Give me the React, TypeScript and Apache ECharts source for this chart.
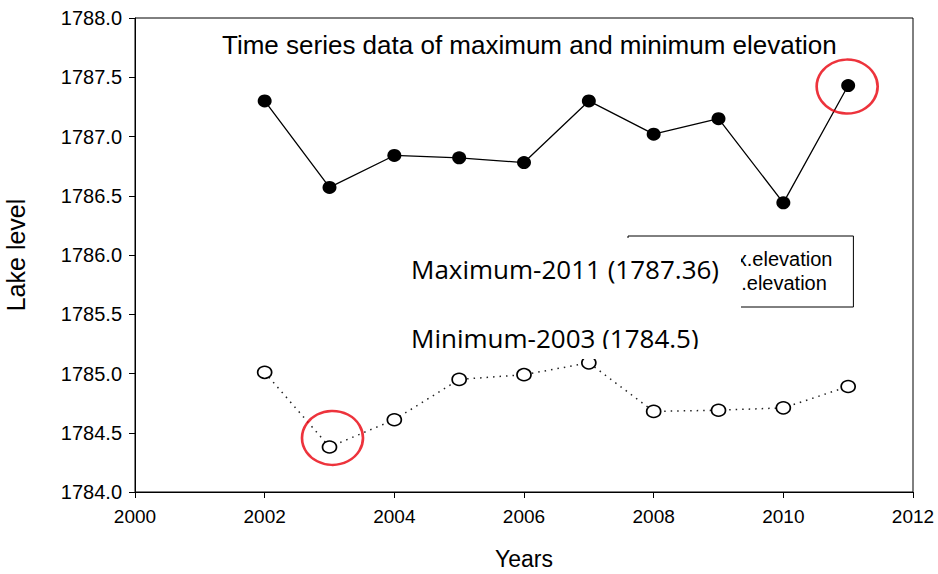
import React, { useEffect, useRef } from "react";
import * as echarts from "echarts";

const years = [2002, 2003, 2004, 2005, 2006, 2007, 2008, 2009, 2010, 2011];
const maxElevation = [1787.3, 1786.57, 1786.84, 1786.82, 1786.78, 1787.3, 1787.02, 1787.15, 1786.44, 1787.43];
const minElevation = [1785.01, 1784.38, 1784.61, 1784.95, 1784.99, 1785.09, 1784.68, 1784.69, 1784.71, 1784.89];
const seriesNames = ["Max.elevation", "Min.elevation"];
const highlightMaxYear = 2011;
const highlightMinYear = 2003;
const titleText = "Time series data of maximum and minimum elevation";
const noteMax = "Maximum-2011 (1787.36)";
const noteMin = "Minimum-2003 (1784.5)";
const xAxisName = "Years";
const yAxisName = "Lake level";

const FONT = "'Liberation Sans', Arial, sans-serif";

export default function App() {
  const ref = useRef<HTMLDivElement>(null);
  useEffect(() => {
    if (!ref.current) return;
    const chart = echarts.init(ref.current, undefined, { renderer: "svg" });
    const maxPts = years.map((y, i) => [y, maxElevation[i]]);
    const minPts = years.map((y, i) => [y, minElevation[i]]);
    const hiMax = maxPts[years.indexOf(highlightMaxYear)];
    const hiMin = minPts[years.indexOf(highlightMinYear)];
    chart.setOption({
      animation: false,
      backgroundColor: "#ffffff",
      title: {
        text: titleText,
        left: 222,
        top: 32,
        padding: 0,
        textStyle: { fontFamily: FONT, fontSize: 26, fontWeight: "normal", color: "#000" },
      },
      legend: {
        data: seriesNames,
        orient: "vertical",
        left: 628,
        top: 236,
        borderColor: "#000",
        borderWidth: 1,
        padding: [13, 21, 14, 20],
        itemWidth: 55,
        itemHeight: 12,
        itemGap: 4,
        textStyle: { fontFamily: FONT, fontSize: 20, color: "#000", lineHeight: 20 },
      },
      grid: {
        left: 135,
        right: 25,
        top: 18,
        bottom: 82,
        outerBoundsMode: "none",
        containLabel: false,
        show: true,
        borderColor: "#000",
        borderWidth: 1,
        backgroundColor: "transparent",
      },
      xAxis: {
        type: "value",
        min: 2000,
        max: 2012,
        interval: 2,
        name: xAxisName,
        nameLocation: "middle",
        nameGap: 55,
        nameTextStyle: { fontFamily: FONT, fontSize: 23, color: "#000" },
        axisLine: { show: true, lineStyle: { color: "#000", width: 1 } },
        axisTick: { show: true, inside: false, length: 6, lineStyle: { color: "#000" } },
        axisLabel: { margin: 15, fontFamily: FONT, fontSize: 19, color: "#000", formatter: (v: number) => String(v) },
        splitLine: { show: false },
      },
      yAxis: {
        type: "value",
        min: 1784,
        max: 1788,
        interval: 0.5,
        name: yAxisName,
        nameLocation: "middle",
        nameGap: 107,
        nameTextStyle: { fontFamily: FONT, fontSize: 25, color: "#000" },
        axisLine: { show: true, lineStyle: { color: "#000", width: 1 } },
        axisTick: { show: true, inside: false, length: 6, lineStyle: { color: "#000" } },
        axisLabel: { margin: 13, fontFamily: FONT, fontSize: 20, color: "#000", formatter: (v: number) => v.toFixed(1) },
        splitLine: { show: false },
      },
      series: [
        {
          name: seriesNames[0],
          type: "line",
          data: maxPts,
          symbol: "circle",
          symbolSize: [14, 13],
          itemStyle: { color: "#000" },
          lineStyle: { color: "#000", width: 1.3 },
          z: 3,
        },
        {
          name: seriesNames[1],
          type: "line",
          data: minPts,
          symbol: "circle",
          symbolSize: [14, 12],
          itemStyle: { color: "#fff", borderColor: "#000", borderWidth: 1.6 },
          lineStyle: { color: "#222", width: 1.5, type: [1.5, 5] },
          z: 3,
        },
        {
          name: "highlight",
          type: "scatter",
          data: [
            { value: hiMax, symbolOffset: [-1, 1] },
            { value: hiMin, symbolOffset: [3, -9] },
          ],
          symbol: "circle",
          symbolSize: [61, 54],
          itemStyle: { color: "rgba(0,0,0,0)", borderColor: "#e8000b", borderWidth: 2.5 },
          silent: true,
          z: 4,
        },
      ],
      graphic: [
        {
          type: "rect",
          shape: { x: 388, y: 238, width: 353, height: 114 },
          style: { fill: "#ffffff" },
          z: 100,
        },
        {
          type: "text",
          x: 411,
          y: 269,
          style: { text: noteMax, fontFamily: "'Open Sans', sans-serif", fontSize: 26, fill: "#000", verticalAlign: "middle" },
          z: 101,
        },
        {
          type: "text",
          x: 411,
          y: 338,
          style: { text: noteMin, fontFamily: "'Open Sans', sans-serif", fontSize: 26, fill: "#000", verticalAlign: "middle" },
          z: 101,
        },
        {
          type: "rect",
          shape: { x: 400, y: 349, width: 330, height: 10 },
          style: { fill: "#ffffff" },
          z: 102,
        },
      ],
    });
    return () => chart.dispose();
  }, []);
  return <div ref={ref} style={{ position: "fixed", left: 0, top: 0, width: 938, height: 574 }} />;
}
